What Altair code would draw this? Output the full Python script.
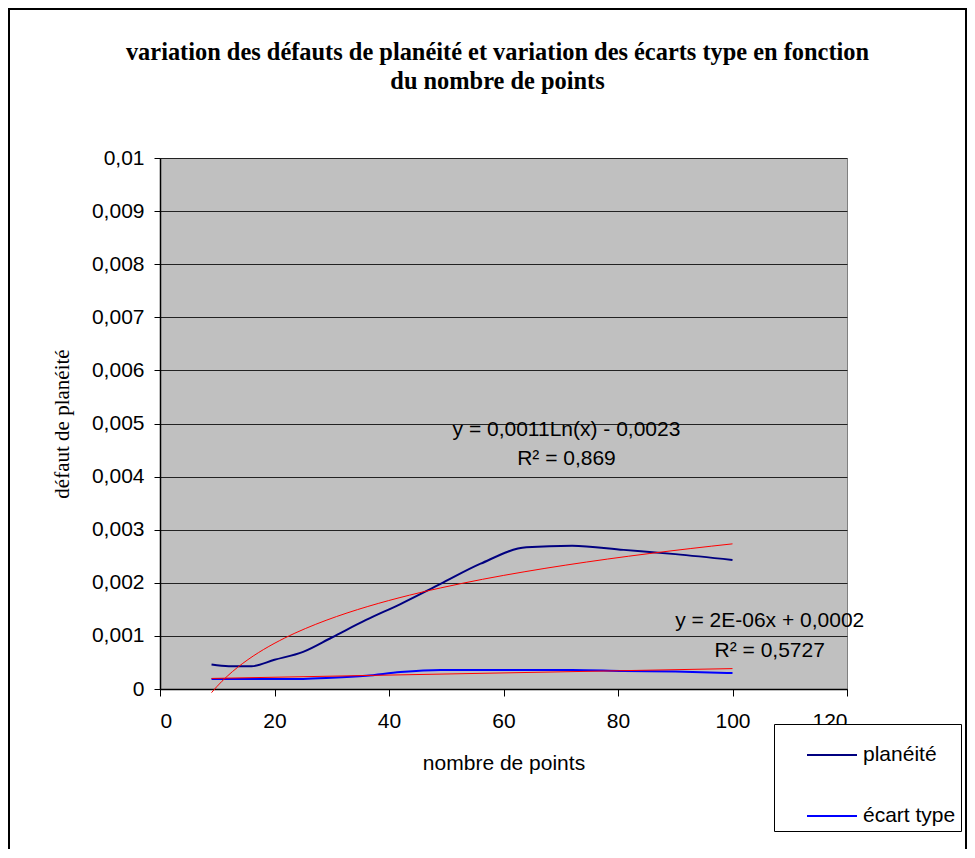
import altair as alt
import pandas as pd

# ---- data ----
x_points = [9, 12, 16, 20, 25, 30, 36, 42, 49, 56, 64, 72, 81, 90, 100]
planeite = [0.00046, 0.00043, 0.00043, 0.00055, 0.00070, 0.00097, 0.00130, 0.00160,
            0.00198, 0.00236, 0.00267, 0.00270, 0.00262, 0.00254, 0.00243]
ecart_type = [0.00019, 0.00019, 0.00019, 0.00019, 0.00019, 0.00021, 0.00025, 0.00032,
              0.00036, 0.00036, 0.00036, 0.00036, 0.00034, 0.00033, 0.00030]

series_names = ["planéité", "écart type"]
series_colors = ["#000080", "#0000FF"]
trend_color = "#FF0000"

eq_texts = ["y = 0,0011Ln(x) - 0,0023", "R² = 0,869", "y = 2E-06x + 0,0002", "R² = 0,5727"]
eq_x = [71.0, 71.0, 106.5, 106.5]
eq_y = [0.00488, 0.00433, 0.00129, 0.00072]

x_ticks = [0, 20, 40, 60, 80, 100, 120]
y_ticks = [0, 0.001, 0.002, 0.003, 0.004, 0.005, 0.006, 0.007, 0.008, 0.009, 0.01]

title_lines = ["variation des défauts de planéité et variation des écarts type en fonction",
               "du nombre de points"]
x_title = "nombre de points"
y_title = "défaut de planéité"

# ---- tables ----
df_plan = pd.DataFrame({"x": x_points, "value": planeite, "serie": series_names[0]})
df_ecart = pd.DataFrame({"x": x_points, "value": ecart_type, "serie": series_names[1]})
df = pd.concat([df_plan, df_ecart], ignore_index=True)
df_ann = pd.DataFrame({"x": eq_x, "value": eq_y, "text": eq_texts})

SANS = "Liberation Sans"
SERIF = "Liberation Serif"
FS = 21

x_enc = alt.X("x:Q", scale=alt.Scale(domain=[0, 120], nice=False),
              axis=alt.Axis(values=x_ticks, title=x_title, grid=False,
                            tickSize=7, labelPadding=14,
                            titleX=343.5, titleY=74, titleBaseline="middle",
                            titleFont=SANS, titleFontSize=FS, titleFontWeight="normal"))
y_enc = alt.Y("value:Q", scale=alt.Scale(domain=[0, 0.01], nice=False),
              axis=alt.Axis(values=y_ticks, title=y_title, grid=True,
                            labelExpr="replace(format(datum.value, '~g'), '.', ',')",
                            tickSize=6, labelPadding=10,
                            titleX=-98, titleY=265.5, titleAngle=270,
                            titleBaseline="middle", titleAlign="center",
                            titleFont=SERIF, titleFontSize=21, titleFontWeight="normal"))

frame = alt.Chart(pd.DataFrame({"k": [0]})).mark_rect(
    fillOpacity=0, stroke="black", strokeWidth=2, clip=False
).encode(x=alt.value(-151), x2=alt.value(806), y=alt.value(-149), y2=alt.value(720))

lines = alt.Chart(df).mark_line(strokeWidth=2, interpolate="monotone").encode(
    x=x_enc,
    y=y_enc,
    color=alt.Color("serie:N",
                    scale=alt.Scale(domain=series_names, range=series_colors),
                    legend=alt.Legend(orient="none", legendX=614, legendY=566, title=None,
                                      symbolType="stroke", symbolSize=2500,
                                      symbolStrokeWidth=2, symbolOffset=27,
                                      labelOffset=5, labelFont=SANS, labelFontSize=FS,
                                      labelColor="black", padding=5, rowPadding=25,
                                      strokeColor="black", fillColor="white")),
    detail="serie:N",
)

trend_log = alt.Chart(df_plan).transform_regression(
    "x", "value", method="log"
).mark_line(color=trend_color, strokeWidth=1).encode(x="x:Q", y="value:Q")

trend_lin = alt.Chart(df_ecart).transform_regression(
    "x", "value", method="linear"
).mark_line(color=trend_color, strokeWidth=1).encode(x="x:Q", y="value:Q")

labels = alt.Chart(df_ann).mark_text(
    font=SANS, fontSize=FS, color="black", align="center", baseline="middle", clip=False
).encode(x="x:Q", y="value:Q", text="text:N")

chart = alt.layer(frame, lines, trend_log, trend_lin, labels).properties(
    width=687,
    height=531,
    autosize=alt.AutoSizeParams(type="none"),
    padding={"left": 152, "top": 150, "right": 120, "bottom": 160},
    background="white",
    title=alt.TitleParams(text=title_lines, font=SERIF, fontSize=24.4, fontWeight="bold",
                          anchor="middle", dx=-6, offset=-86, lineHeight=29, color="black"),
).configure_view(
    fill="#C0C0C0", stroke="#808080", strokeWidth=1
).configure_axis(
    domainColor="black", domainWidth=1.5, tickColor="black", tickWidth=1,
    gridColor="#222222", gridWidth=1.2,
    labelFont=SANS, labelFontSize=FS, labelColor="black", titleColor="black",
)

chart.save("out.html", embed_options={"renderer": "svg", "actions": False})
